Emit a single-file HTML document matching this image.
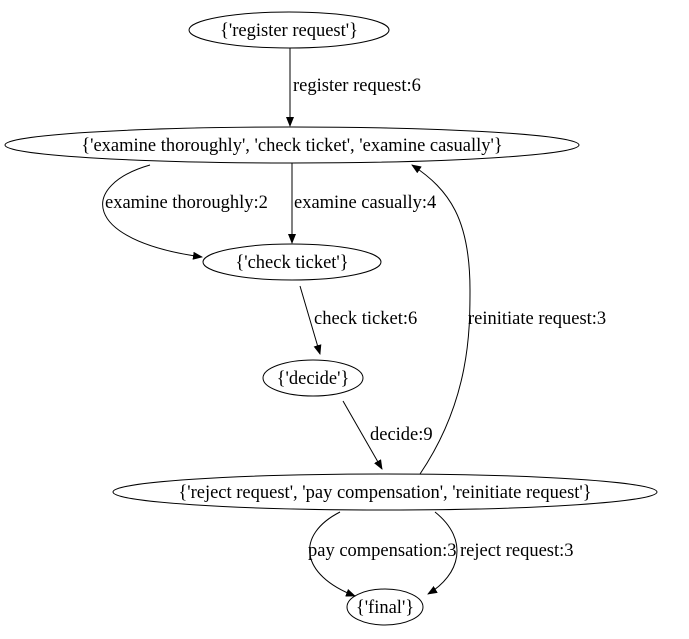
<!DOCTYPE html>
<html><head><meta charset="utf-8"><style>html,body{margin:0;padding:0;background:#fff}svg{display:block}</style></head><body>
<svg width="689" height="639" viewBox="0 0 689 639" xmlns="http://www.w3.org/2000/svg" font-family="Liberation Serif, serif" font-size="18.5">
<defs><marker id="a" markerWidth="10" markerHeight="8" refX="9" refY="4" orient="auto" markerUnits="userSpaceOnUse"><path d="M0,0 L10,4 L0,8 Z" fill="#000"/></marker></defs>
<g fill="none" stroke="#000" stroke-width="1">
<ellipse cx="289" cy="30" rx="100" ry="18"/>
<ellipse cx="292" cy="145" rx="287" ry="18"/>
<ellipse cx="292" cy="262" rx="89" ry="18"/>
<ellipse cx="313" cy="378" rx="50" ry="18"/>
<ellipse cx="385" cy="492" rx="272" ry="18"/>
<ellipse cx="385" cy="607" rx="38" ry="18"/>
<path d="M290,48 L290,126" marker-end="url(#a)"/>
<path d="M292,163 L292,243" marker-end="url(#a)"/>
<path d="M150,165 C80,185 80,240 202,257" marker-end="url(#a)"/>
<path d="M300,286 L320,354" marker-end="url(#a)"/>
<path d="M343,401 L382,469" marker-end="url(#a)"/>
<path d="M420,474 C470,400 470,330 470,290 C470,220 450,190 412,165" marker-end="url(#a)"/>
<path d="M340,512 C295,535 300,575 355,596" marker-end="url(#a)"/>
<path d="M435,512 C470,540 460,575 428,594" marker-end="url(#a)"/>
</g>
<g text-anchor="middle">
<text x="289" y="36">{'register request'}</text>
<text x="292" y="151">{'examine thoroughly', 'check ticket', 'examine casually'}</text>
<text x="292" y="268">{'check ticket'}</text>
<text x="313" y="384">{'decide'}</text>
<text x="385" y="498">{'reject request', 'pay compensation', 'reinitiate request'}</text>
<text x="385" y="613">{'final'}</text>
</g>
<text x="293" y="91">register request:6</text>
<text x="105" y="208">examine thoroughly:2</text>
<text x="294" y="208">examine casually:4</text>
<text x="314" y="324">check ticket:6</text>
<text x="468" y="324">reinitiate request:3</text>
<text x="370" y="440">decide:9</text>
<text x="308" y="556">pay compensation:3</text>
<text x="460" y="556">reject request:3</text>
</svg>
</body></html>
